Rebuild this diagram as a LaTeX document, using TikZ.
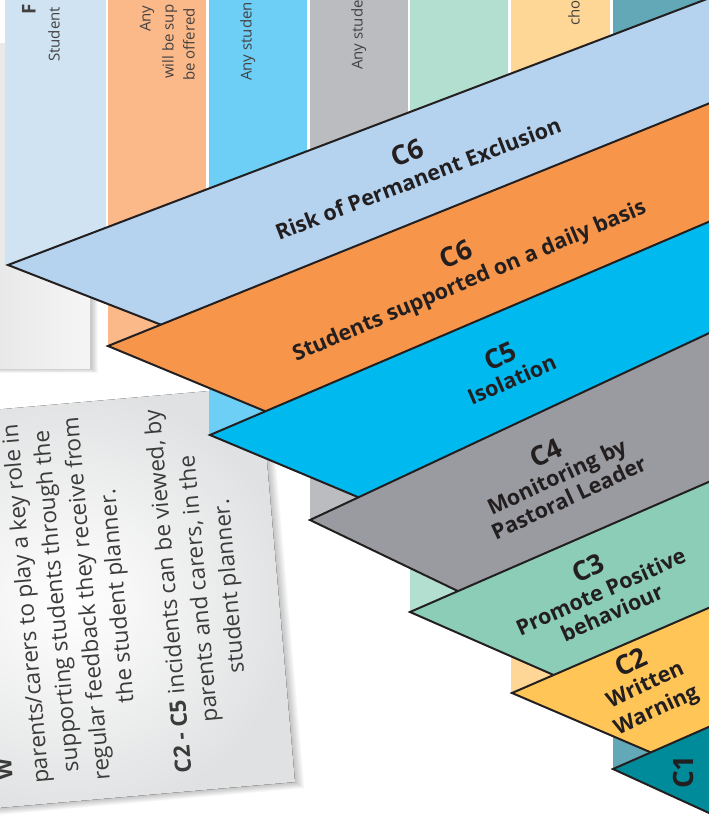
\documentclass[tikz,border=0pt]{standalone}
\usepackage{fontspec}
\setmainfont{Open Sans}
\usepackage{xcolor}

\definecolor{ink}{HTML}{231F20}
\definecolor{noteink}{HTML}{3B3B3B}
\definecolor{sheetgrey}{HTML}{E6E6E6}
\definecolor{notegrey}{HTML}{E0E1E2}
\definecolor{colA}{HTML}{D0E3F3}
\definecolor{colB}{HTML}{FBB98A}
\definecolor{colC}{HTML}{6DCFF6}
\definecolor{colD}{HTML}{BBBCBF}
\definecolor{colE}{HTML}{B3DFD0}
\definecolor{colF}{HTML}{FED695}
\definecolor{colG}{HTML}{63A8B6}
\definecolor{bandA}{HTML}{B5D3EF}
\definecolor{bandB}{HTML}{F7964A}
\definecolor{bandC}{HTML}{00B9EF}
\definecolor{bandD}{HTML}{9A9BA0}
\definecolor{bandE}{HTML}{8BCDB6}
\definecolor{bandF}{HTML}{FFC557}
\definecolor{bandG}{HTML}{008B9A}

\tikzset{
	bandline/.style={line width=2pt, draw=ink, line join=miter},
	clbl/.style={font=\fontsize{27}{27}\selectfont\bfseries, text=ink, inner sep=0pt, anchor=base},
	lbl/.style={font=\fontsize{21.5}{24}\selectfont\bfseries, text=ink, inner sep=0pt, anchor=base},
	coltxt/.style={font=\fontsize{15}{18}\selectfont, text=ink!85, inner sep=0pt, anchor=mid west, rotate=90},
	notetxt/.style={font=\fontsize{22.5}{30.5}\selectfont, text=noteink, inner sep=0pt},
}

\begin{document}
\begin{tikzpicture}[x=1pt, y=-1pt]
		\useasboundingbox (0,0) rectangle (709,819);
		\clip (0,0) rectangle (709,819);
		\fill[white] (0,0) rectangle (709,819);
\par
\foreach \s in {1,...,8}
			\fill[black, opacity=0.03, shift={(\s,0.6*\s)}] (-20,43) rectangle (90,368);
		\fill[left color=sheetgrey, right color=sheetgrey!40] (-20,43) rectangle (90,368);
\par
\begin{scope}[rotate around={5:(295,782)}]
			\foreach \s in {1,...,10}
				\fill[black, opacity=0.025, shift={(0.9*\s,0.7*\s)}] (-120,385) rectangle (295,782);
			\fill[inner color=white, outer color=notegrey] (-120,385) rectangle (295,782);
		\end{scope}
		\node[notetxt, rotate=95, align=center] (note) at (129,595) {parents/carers to play a key role in\\supporting students through the\\regular feedback they receive from\\the student planner.\\[21pt]\textbf{C2 - C5} incidents can be viewed, by\\parents and carers, in the\\student planner.};
		\node[notetxt, rotate=95, anchor=west, font=\fontsize{22.5}{30.5}\selectfont\bfseries] (notehead) at (5,780) {W};
\par
\foreach \xa/\xb/\c/\b in {5/106/colA/265, 108/206/colB/346, 209/307/colC/435, 310/408/colD/520, 410/508/colE/612, 511/610/colF/693, 613/720/colG/769}
			\fill[\c] (\xa,-5) rectangle (\xb,\b);
\par
\node[coltxt, font=\fontsize{19}{20}\selectfont\bfseries] (headA) at (33,15) {F};
		\node[coltxt] (txtA) at (57,62) {Student};
		\node[coltxt] (txtBa) at (148,32) {Any};
		\node[coltxt] (txtBb) at (171,79) {will be sup};
		\node[coltxt] (txtBc) at (192,81) {be offered};
		\node[coltxt] (txtC) at (249,81) {Any studen};
		\node[coltxt] (txtD) at (360,70) {Any stude};
		\node[coltxt] (txtF) at (577,26) {cho};
\par
\foreach \ax/\ay/\ty/\by/\c in {8/265/-6/543/bandA, 108/346/99/600/bandB, 210/435/217/649/bandC, 310/520/328/717/bandD, 410/612/477/748/bandE, 512/693/603/782/bandF, 613/769/722/818/bandG}
		{
			\fill[\c] (\ax,\ay) -- (720,\ty) -- (720,\by) -- cycle;
			\draw[bandline] (720,\ty) -- (\ax,\ay) -- (720,\by);
		}
\par
\node[clbl, rotate=21] (riskc) at (411,162) {C6};
		\node[lbl, rotate=21] (risk) at (421,186) {Risk of Permanent Exclusion};
		\node[clbl, rotate=23] (dailyc) at (460,263) {C6};
		\node[lbl, rotate=23] (daily) at (472,287) {Students supported on a daily basis};
		\node[clbl, rotate=23.5] (isoc) at (504,365) {C5};
		\node[lbl, rotate=23.5] (iso) at (515,387) {Isolation};
		\node[clbl, rotate=25] (monc) at (550,462) {C4};
		\node[lbl, rotate=25] (mona) at (560,484) {Monitoring by};
		\node[lbl, rotate=25] (monb) at (572,505) {Pastoral Leader};
		\node[clbl, rotate=24] (posc) at (592,577) {C3};
		\node[lbl, rotate=24] (posa) at (604,599) {Promote Positive};
		\node[lbl, rotate=24] (posb) at (615,620) {behaviour};
		\node[clbl, rotate=25] (warnc) at (635,671) {C2};
		\node[lbl, rotate=25] (warna) at (648,691) {Written};
		\node[lbl, rotate=25] (warnb) at (659,716) {Warning};
		\node[clbl, rotate=90, anchor=center, font=\fontsize{28}{28}\selectfont\bfseries] (cone) at (683,772) {C1};
	\end{tikzpicture}
\end{document}
